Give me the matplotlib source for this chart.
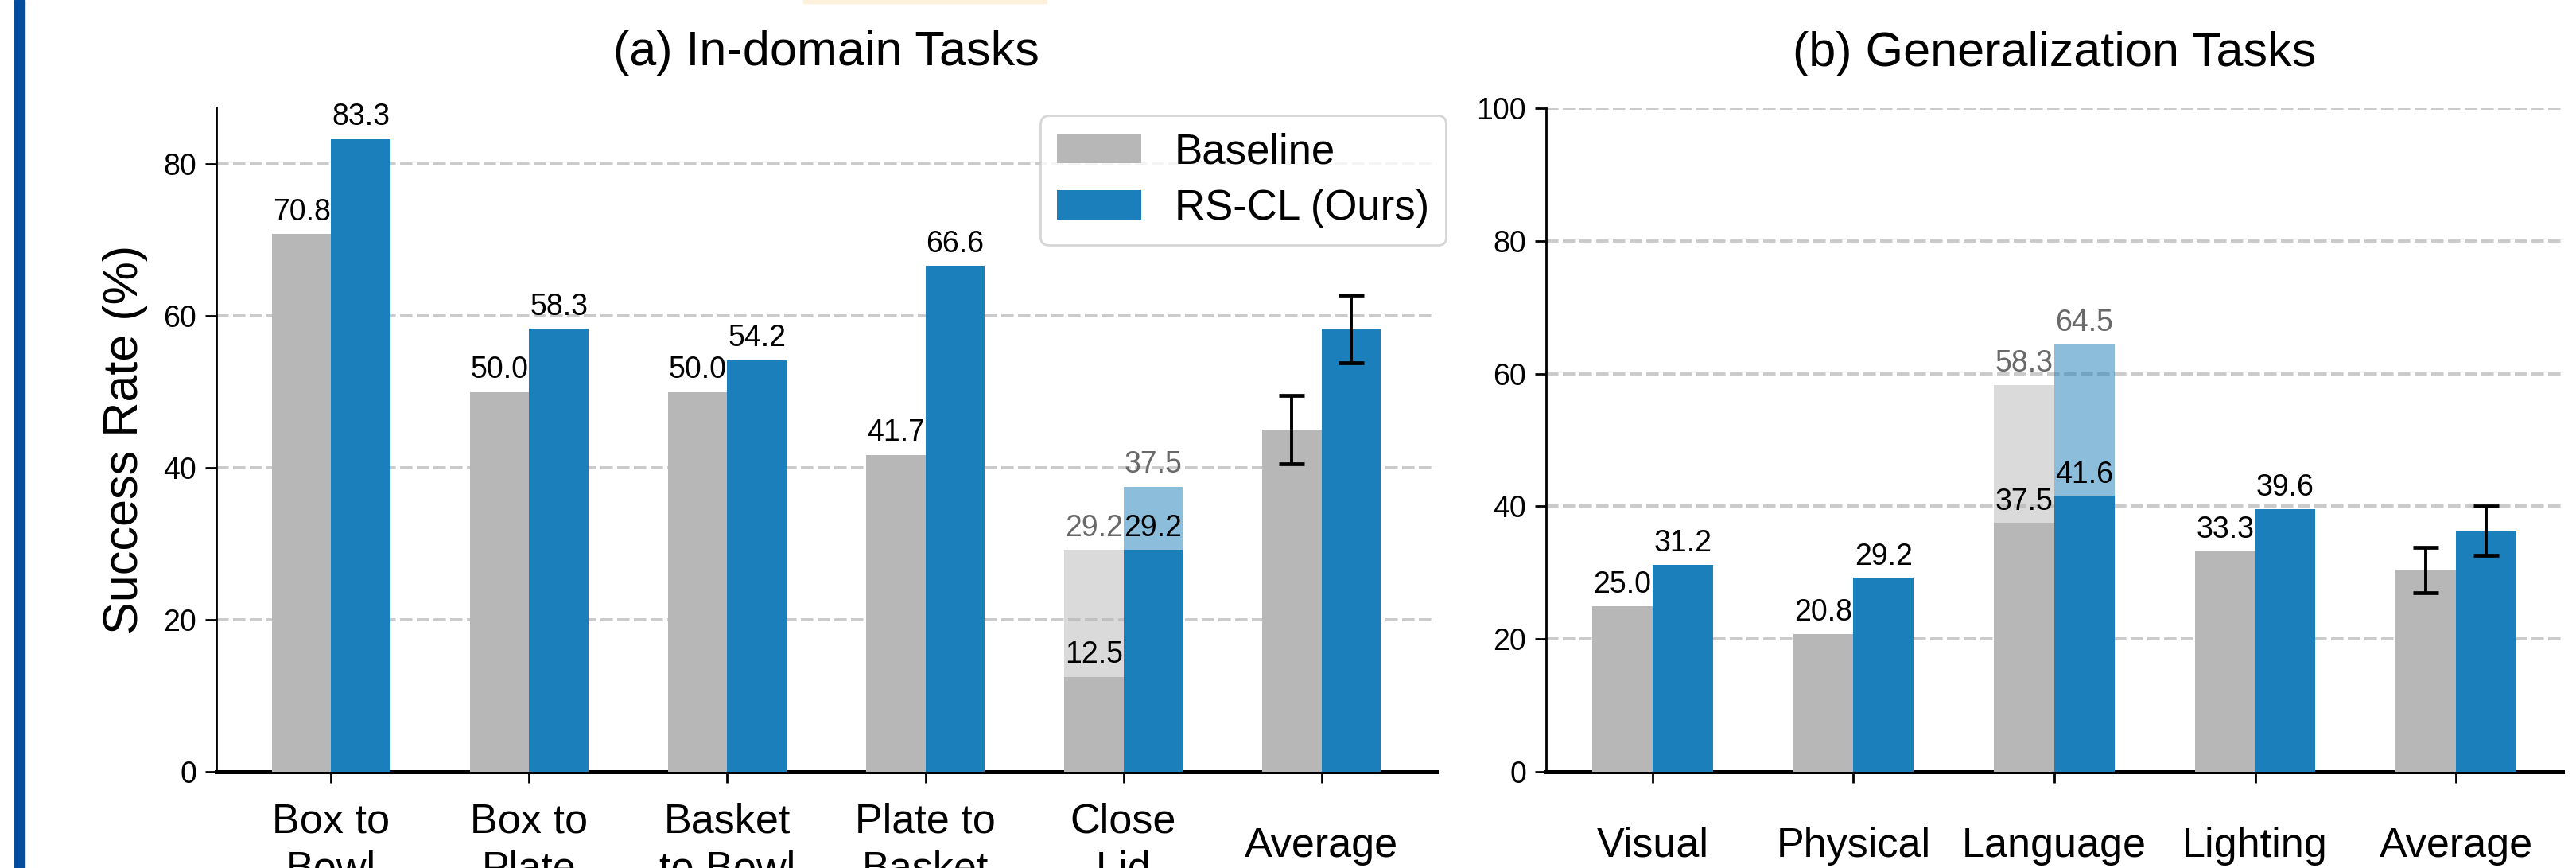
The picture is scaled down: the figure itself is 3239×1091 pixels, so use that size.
import matplotlib
matplotlib.use("Agg")
import matplotlib.pyplot as plt
from matplotlib.patches import Rectangle
import numpy as np

plt.rcParams['font.family'] = ['Liberation Sans', 'DejaVu Sans']

# ---- data -------------------------------------------------------------
tasks_a = ["Box to\nBowl", "Box to\nPlate", "Basket\nto Bowl", "Plate to\nBasket", "Close\nLid", "Average"]
baseline_a = [70.8, 50.0, 50.0, 41.7, 12.5, 45.0]
ours_a = [83.3, 58.3, 54.2, 66.6, 29.2, 58.3]
baseline_a_upper = [None, None, None, None, 29.2, None]
ours_a_upper = [None, None, None, None, 37.5, None]
baseline_a_err = 4.5
ours_a_err = 4.45

tasks_b = ["Visual", "Physical", "Language", "Lighting", "Average"]
baseline_b = [25.0, 20.8, 37.5, 33.3, 30.4]
ours_b = [31.2, 29.2, 41.6, 39.6, 36.3]
baseline_b_upper = [None, None, 58.3, None, None]
ours_b_upper = [None, None, 64.5, None, None]
baseline_b_err = 3.4
ours_b_err = 3.7

# ---- style ------------------------------------------------------------
GRAY = "#b7b7b7"
BLUE = "#1b7fbb"
TXT = 27
W = 0.3

fig = plt.figure(figsize=(32.39, 10.91), dpi=100)
H, Wd = 1091, 3239
ax1 = fig.add_axes([272 / Wd, 1 - 970 / H, 1534 / Wd, 835 / H])
ax2 = fig.add_axes([1944 / Wd, 1 - 970 / H, 1278 / Wd, 834 / H])


def draw(ax, tasks, base, ours, base_up, ours_up, base_err, ours_err, ymax, title):
    x = np.arange(len(tasks))
    n = len(tasks)
    ax.set_axisbelow(True)
    ax.yaxis.grid(True, color="#cacaca", linewidth=2.8, linestyle=(0, (4.0, 1.4)))

    # lighter upper segments
    for i in range(n):
        if base_up[i] is not None:
            ax.bar(x[i] - W / 2, base_up[i], W, color=GRAY, alpha=0.5, linewidth=0, zorder=2)
        if ours_up[i] is not None:
            ax.bar(x[i] + W / 2, ours_up[i], W, color=BLUE, alpha=0.5, linewidth=0, zorder=2)

    ekw = dict(ecolor="black", elinewidth=2.8, capsize=11.5, capthick=3.4, zorder=5)
    b1 = ax.bar(x - W / 2, base, W, color=GRAY, linewidth=0, zorder=3, label="Baseline")
    b2 = ax.bar(x + W / 2, ours, W, color=BLUE, linewidth=0, zorder=3, label="RS-CL (Ours)")
    # error bars only for the averages
    ax.errorbar(x[-1] - W / 2, base[-1], yerr=base_err, fmt="none", **ekw)
    ax.errorbar(x[-1] + W / 2, ours[-1], yerr=ours_err, fmt="none", **ekw)

    for i in range(n - 1):
        ax.text(x[i] - W / 2, base[i] + 1, f"{base[i]:.1f}", ha="center", va="bottom",
                fontsize=TXT, color="black", zorder=6)
        ax.text(x[i] + W / 2, ours[i] + 1, f"{ours[i]:.1f}", ha="center", va="bottom",
                fontsize=TXT, color="black", zorder=6)
        if base_up[i] is not None:
            ax.text(x[i] - W / 2, base_up[i] + 1, f"{base_up[i]:.1f}", ha="center", va="bottom",
                    fontsize=TXT, color="dimgray", zorder=6)
        if ours_up[i] is not None:
            ax.text(x[i] + W / 2, ours_up[i] + 1, f"{ours_up[i]:.1f}", ha="center", va="bottom",
                    fontsize=TXT, color="dimgray", zorder=6)

    ax.set_ylim(0, ymax)
    ax.set_xticks(x)
    ax.set_xticklabels(tasks, fontsize=37.5)
    for lab in ax.get_xticklabels():
        lab.set_va("center")
        lab.set_linespacing(1.3)
    ax.tick_params(axis="x", length=10, width=2, pad=57)
    ax.tick_params(axis="y", length=10, width=2, pad=8, labelsize=TXT)
    for s in ("top", "right"):
        ax.spines[s].set_visible(False)
    ax.spines["left"].set_linewidth(2)
    ax.spines["bottom"].set_linewidth(3.6)
    ax.set_title(title, fontsize=44, pad=38)
    return b1, b2


b1, b2 = draw(ax1, tasks_a, baseline_a, ours_a, baseline_a_upper, ours_a_upper,
              baseline_a_err, ours_a_err, 83.3 * 1.05, "(a) In-domain Tasks")
ax1.set_yticks([0, 20, 40, 60, 80])
ax1.set_ylabel("Success Rate (%)", fontsize=44, labelpad=14)
leg = ax1.legend(handles=[b1, b2], loc="upper right", bbox_to_anchor=(1.008, 0.988),
                 borderaxespad=0, fontsize=38, framealpha=0.8, edgecolor="#cccccc",
                 labelspacing=0.4)
leg.get_frame().set_linewidth(2)

draw(ax2, tasks_b, baseline_b, ours_b, baseline_b_upper, ours_b_upper,
     baseline_b_err, ours_b_err, 100, "(b) Generalization Tasks")
ax2.set_yticks([0, 20, 40, 60, 80, 100])

# page margin rule and faint highlight fragment at the top
fig.patches.append(Rectangle((18 / Wd, 0), 13 / Wd, 1, transform=fig.transFigure,
                             color="#044d9c", zorder=10))
fig.patches.append(Rectangle((1010 / Wd, 1 - 4 / H), 306 / Wd, 4 / H, transform=fig.transFigure,
                             color="#fdf1dc", zorder=10))

fig.savefig("out.png", dpi=100)
